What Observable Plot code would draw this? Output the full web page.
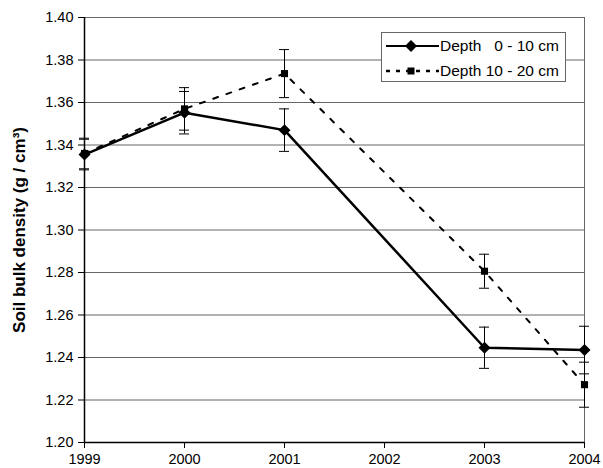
<!DOCTYPE html>
<html>
<head>
<meta charset="utf-8">
<script src="https://cdn.jsdelivr.net/npm/d3@7"></script>
<script src="https://cdn.jsdelivr.net/npm/@observablehq/plot@0.6"></script>
<style>
  html, body { margin: 0; padding: 0; background: white; }
  #wrap { position: relative; width: 603px; height: 468px; }
  #wrap svg g[aria-label="y-axis label"] text { font-weight: bold; font-size: 17px; }
  #legend {
    position: absolute; left: 381px; top: 32px; width: 185px; height: 50px;
    background: white; border: 1px solid #666; box-sizing: border-box;
    font-family: 'Liberation Sans', Arial, sans-serif; font-size: 15.5px; color: black;
  }
  .row { position: absolute; left: 0; height: 20px; display: flex; align-items: center; white-space: pre; }
  .row svg { display: block; }
</style>
</head>
<body>
<div id="wrap"></div>
<script>
const years = [1999, 2000, 2001, 2003, 2004];
const depth0_10 = [1.3355, 1.3552, 1.3470, 1.2446, 1.2435];
const err0_10 = [0.0072, 0.0100, 0.0100, 0.0097, 0.0112];
const depth10_20 = [1.3360, 1.3570, 1.3736, 1.2806, 1.2272];
const err10_20 = [0.0072, 0.0100, 0.0113, 0.0080, 0.0106];
const xTicks = [1999, 2000, 2001, 2002, 2003, 2004];
const yTicks = [1.20, 1.22, 1.24, 1.26, 1.28, 1.30, 1.32, 1.34, 1.36, 1.38, 1.40];
const seriesNames = ["Depth   0 - 10 cm", "Depth 10 - 20 cm"];
const yLabel = "Soil bulk density (g / cm³)";

const s0 = years.map((y, i) => ({year: y, v: depth0_10[i], e: err0_10[i]}));
const s1 = years.map((y, i) => ({year: y, v: depth10_20[i], e: err10_20[i]}));
const both = [...s1, ...s0];

const chart = Plot.plot({
  width: 603, height: 468,
  marginLeft: 84, marginRight: 19, marginTop: 17, marginBottom: 26,
  style: {fontFamily: "'Liberation Sans', Arial, sans-serif", fontSize: "14.5px", color: "black", background: "white"},
  x: {domain: [1999, 2004]},
  y: {domain: [1.2, 1.4]},
  marks: [
    Plot.ruleY(yTicks, {stroke: "#666", strokeWidth: 1}),
    Plot.ruleX([2004], {stroke: "#666", strokeWidth: 1}),
    Plot.ruleX([1999], {stroke: "black", strokeWidth: 1.5}),
    Plot.ruleY([1.2], {stroke: "black", strokeWidth: 1.5}),
    Plot.axisX({ticks: xTicks, tickFormat: d => String(d), tickSize: 6, tickPadding: 5, label: null, stroke: "black"}),
    Plot.axisY({ticks: yTicks, tickFormat: d3.format(".2f"), tickSize: 6, tickPadding: 5,
      label: yLabel, labelAnchor: "center", labelArrow: "none", labelOffset: 72}),
    Plot.ruleX(both, {x: "year", y1: d => d.v - d.e, y2: d => d.v + d.e, stroke: "black", strokeWidth: 1}),
    Plot.ruleY(both, {y: d => d.v + d.e, x1: d => d.year - 0.05, x2: d => d.year + 0.05, stroke: "black", strokeWidth: 1}),
    Plot.ruleY(both, {y: d => d.v - d.e, x1: d => d.year - 0.05, x2: d => d.year + 0.05, stroke: "black", strokeWidth: 1}),
    Plot.line(s1, {x: "year", y: "v", stroke: "black", strokeWidth: 2, strokeDasharray: "5,9"}),
    Plot.line(s0, {x: "year", y: "v", stroke: "black", strokeWidth: 2.5}),
    Plot.dot(s1, {x: "year", y: "v", symbol: "square", r: 4, fill: "black"}),
    Plot.dot(s0, {x: "year", y: "v", symbol: "diamond2", r: 5.4, fill: "black"})
  ]
});
const wrap = document.getElementById("wrap");
wrap.appendChild(chart);

const legend = document.createElement("div");
legend.id = "legend";
const rows = [
  {name: seriesNames[0], dash: null, sym: "diamond", top: 3},
  {name: seriesNames[1], dash: "4,6", sym: "square", top: 28}
];
for (const r of rows) {
  const row = document.createElement("div");
  row.className = "row";
  row.style.top = r.top + "px";
  const marker = r.sym === "diamond"
    ? `<path d="M29,4 L35,10 L29,16 L23,10 Z" fill="black"/>`
    : `<rect x="25.5" y="6.5" width="7" height="7" fill="black"/>`;
  row.innerHTML = `<svg width="58" height="20"><line x1="4" y1="10" x2="57" y2="10" stroke="black" stroke-width="${r.dash ? 2.5 : 2}" ${r.dash ? `stroke-dasharray="${r.dash}"` : ""}/>${marker}</svg><span>${r.name}</span>`;
  legend.appendChild(row);
}
wrap.appendChild(legend);
</script>
</body>
</html>
